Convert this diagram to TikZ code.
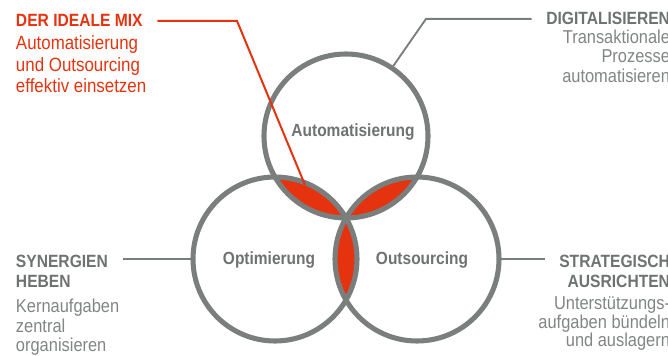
\documentclass[tikz,border=0pt]{standalone}
\usepackage{fontspec}
\setmainfont{Liberation Sans}[FakeStretch=0.88]
\usepackage{xcolor}
\usetikzlibrary{positioning,backgrounds}

\definecolor{mixred}{HTML}{E5330F}
\definecolor{ringgray}{HTML}{7A7E7D}
\definecolor{headgray}{HTML}{6E7271}
\definecolor{textgray}{HTML}{818584}

\begin{document}
\begin{tikzpicture}[
        x=0.75pt, y=-0.75pt,
        every node/.style={inner sep=0pt, outer sep=0pt},
        ring/.style={
            circle,
            draw=ringgray,
            line width=3.8pt,
            minimum size=123pt
        },
        ringlabel/.style={font=\fontsize{13.2}{15}\selectfont\bfseries, text=headgray},
        lens/.style={fill=mixred},
        head/.style={font=\fontsize{13.3}{14.6}\selectfont\bfseries, text=headgray},
        body/.style={font=\fontsize{14}{14.6}\selectfont, text=textgray},
        leader/.style={draw=ringgray, line width=1.4pt, shorten <=11pt},
        redleader/.style={draw=mixred, line width=1.5pt, shorten <=11pt}
    ]
        \useasboundingbox (0,0) rectangle (668,356);

        % Rings
        \node[ring] (auto) at (346,136) {};
        \node[ring] (opti) at (275,259) {};
        \node[ring] (outs) at (417,259) {};

        \node[ringlabel] (autolabel) at ([shift={(7,-4)}]auto.center) {Automatisierung};
        \node[ringlabel] (optilabel) at ([shift={(-6,1)}]opti.center) {Optimierung};
        \node[ringlabel] (outslabel) at ([shift={(5,1)}]outs.center) {Outsourcing};

        % Overlaps, behind the rings
        \begin{scope}[on background layer]
            \begin{scope}
                \clip (auto.center) circle[radius=82];
                \fill[lens] (opti.center) circle[radius=82];
            \end{scope}
            \begin{scope}
                \clip (auto.center) circle[radius=82];
                \fill[lens] (outs.center) circle[radius=82];
            \end{scope}
            \begin{scope}
                \clip (outs.center) circle[radius=82];
                \fill[lens] (opti.center) circle[radius=82];
            \end{scope}
        \end{scope}

        % Texts
        \node[head, text=mixred, anchor=base west] (mix) at (16,27) {DER IDEALE MIX};
        \node[body, text=mixred, font=\fontsize{14.4}{16.1}\selectfont, align=left,
              below=6.75pt of mix.south west, anchor=north west] (mixtext)
              {Automatisierung\\und Outsourcing\\effektiv einsetzen};

        \node[head, anchor=base east] (digi) at (670,25) {DIGITALISIEREN};
        \node[body, align=right, below=3.5pt of digi.south east, anchor=north east] (digitext)
              {Transaktionale\\Prozesse\\automatisieren};

        \node[head, align=left, anchor=north west] (syn) at (16,255.3) {SYNERGIEN\\HEBEN};
        \node[body, align=left, below=9.2pt of syn.south west, anchor=north west] (syntext)
              {Kernaufgaben\\zentral\\organisieren};

        \node[head, align=right, anchor=north east] (strat) at (670,255.3) {STRATEGISCH\\AUSRICHTEN};
        \node[body, align=right, font=\fontsize{14}{13.9}\selectfont,
              below=7.2pt of strat.south east, anchor=north east] (strattext)
              {Unterstützungs-\\aufgaben bündeln\\und auslagern};

        % Leaders
        \coordinate (mixbend) at (237,21);
        \coordinate (mixtip) at (305,185);
        \coordinate (digibend) at (426,19);

        \draw[redleader] (mix.east) -- (mix.east -| mixbend) -- (mixtip);
        \draw[leader] (digi.west) -- (digi.west -| digibend) -- (auto.56);
        \draw[leader] (syn.east |- opti.west) -- (opti.west);
        \draw[leader] (strat.west |- outs.east) -- (outs.east);

    \end{tikzpicture}
\end{document}
